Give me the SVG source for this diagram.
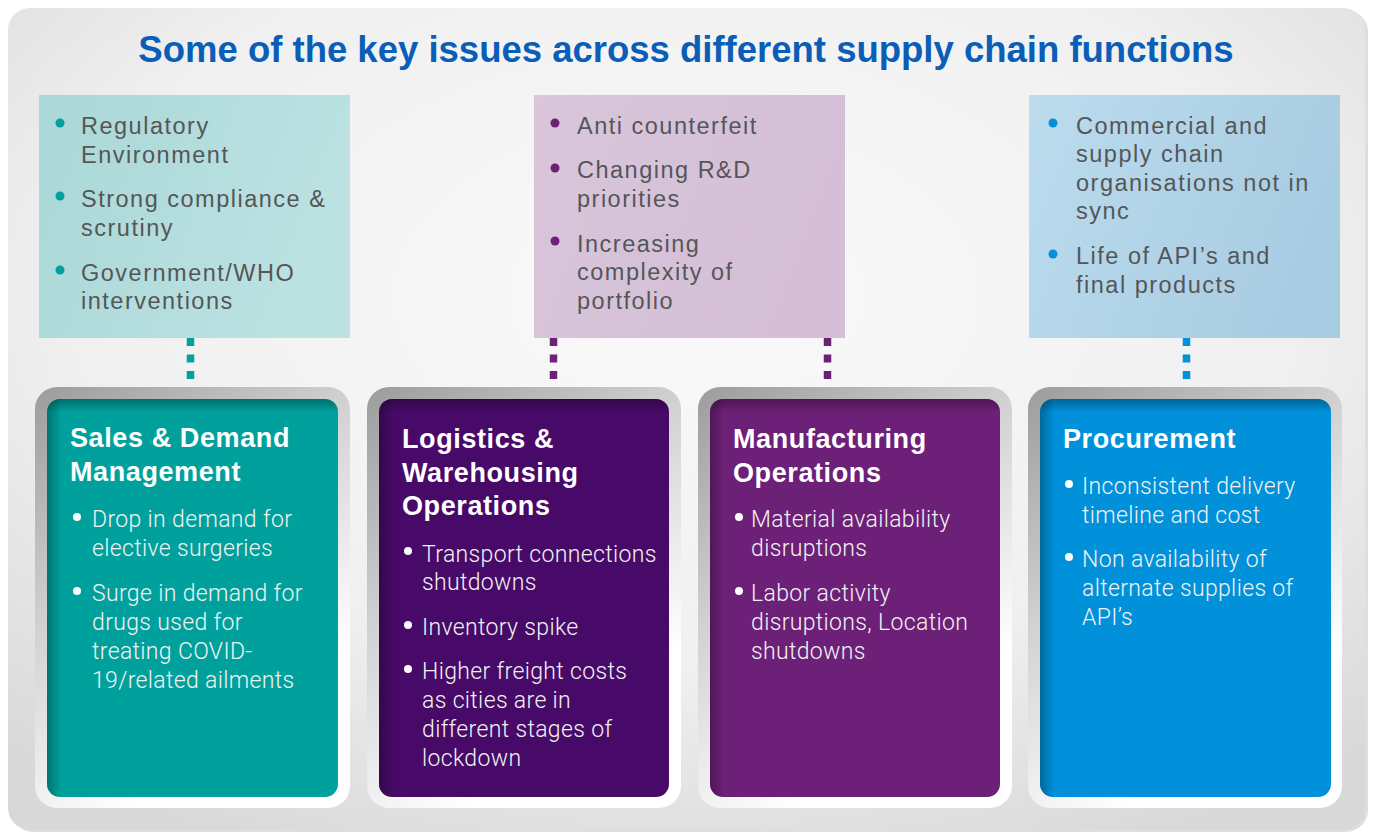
<svg xmlns="http://www.w3.org/2000/svg" width="1373" height="832" viewBox="0 0 1373 832">
<defs>
  <radialGradient id="bg" cx="0.5" cy="0.35" r="0.75">
    <stop offset="0" stop-color="#fafafa"/>
    <stop offset="0.6" stop-color="#f0f0f0"/>
    <stop offset="1" stop-color="#d8d8d8"/>
  </radialGradient>
  <linearGradient id="frame" x1="0" y1="0" x2="0.55" y2="1">
    <stop offset="0" stop-color="#9c9c9c"/>
    <stop offset="0.45" stop-color="#d2d2d2"/>
    <stop offset="0.9" stop-color="#ffffff"/>
  </linearGradient>
  <linearGradient id="shadeL" x1="0" y1="0" x2="1" y2="0">
    <stop offset="0" stop-color="#000" stop-opacity="0.28"/>
    <stop offset="0.05" stop-color="#000" stop-opacity="0"/>
  </linearGradient>
  <linearGradient id="shadeT" x1="0" y1="0" x2="0" y2="1">
    <stop offset="0" stop-color="#000" stop-opacity="0.3"/>
    <stop offset="0.035" stop-color="#000" stop-opacity="0"/>
  </linearGradient>
  <linearGradient id="tealBox" x1="0" y1="0" x2="1" y2="0.3">
    <stop offset="0" stop-color="#aad7d7"/>
    <stop offset="1" stop-color="#bce2e2"/>
  </linearGradient>
  <linearGradient id="purpBox" x1="0" y1="0" x2="1" y2="0.3">
    <stop offset="0" stop-color="#d9c6db"/>
    <stop offset="1" stop-color="#d4bfd6"/>
  </linearGradient>
  <linearGradient id="blueBox" x1="0" y1="0" x2="1" y2="0.3">
    <stop offset="0" stop-color="#bcdcee"/>
    <stop offset="1" stop-color="#a8cce2"/>
  </linearGradient>
</defs>
<style>
  .title { font-family: "Liberation Sans", Arial, sans-serif; font-weight: bold; font-size: 36.5px; fill: #0a5eb8; }
  .tb { font-family: "Liberation Sans", Arial, sans-serif; font-size: 23.5px; letter-spacing: 1.5px; fill: #555658; }
  .ct { font-family: "Liberation Sans", Arial, sans-serif; font-weight: bold; font-size: 27px; letter-spacing: 0.6px; fill: #ffffff; }
  .cb { font-family: Roboto, "Liberation Sans", sans-serif; font-weight: 300; font-size: 23px; letter-spacing: 0.35px; fill: #f2f2f2; }
  .dot { fill: #ffffff; }
  .conn { fill: none; stroke-width: 7.5; stroke-dasharray: 8 8.5; }
</style>

<!-- background panel -->
<rect x="11" y="10" width="1357" height="822" rx="22" fill="#c8c8c8" opacity="0.6"/>
<rect x="8" y="8" width="1357" height="822" rx="22" fill="url(#bg)"/>

<text class="title" x="686" y="62" text-anchor="middle">Some of the key issues across different supply chain functions</text>

<!-- connectors -->
<g id="connectors">
  <line class="conn" x1="190.5" y1="338" x2="190.5" y2="392" stroke="#00a19f"/>
  <line class="conn" x1="553.5" y1="338" x2="553.5" y2="392" stroke="#6d2077"/>
  <line class="conn" x1="827.5" y1="338" x2="827.5" y2="392" stroke="#6d2077"/>
  <line class="conn" x1="1186.5" y1="338" x2="1186.5" y2="392" stroke="#0091da"/>
</g>

<!-- top boxes -->
<g id="regulatory-box">
  <rect x="39" y="95" width="311" height="243" fill="url(#tealBox)"/>
  <circle cx="60" cy="123" r="4.5" fill="#00a19f"/>
  <circle cx="60" cy="196" r="4.5" fill="#00a19f"/>
  <circle cx="60" cy="270" r="4.5" fill="#00a19f"/>
  <text class="tb" x="81" y="134">Regulatory</text>
  <text class="tb" x="81" y="163">Environment</text>
  <text class="tb" x="81" y="207">Strong compliance &amp;</text>
  <text class="tb" x="81" y="236">scrutiny</text>
  <text class="tb" x="81" y="281">Government/WHO</text>
  <text class="tb" x="81" y="309">interventions</text>
</g>

<g id="product-box">
  <rect x="534" y="95" width="311" height="243" fill="url(#purpBox)"/>
  <circle cx="555" cy="123" r="4.5" fill="#6d2077"/>
  <circle cx="555" cy="168" r="4.5" fill="#6d2077"/>
  <circle cx="555" cy="241" r="4.5" fill="#6d2077"/>
  <text class="tb" x="577" y="134">Anti counterfeit</text>
  <text class="tb" x="577" y="178">Changing R&amp;D</text>
  <text class="tb" x="577" y="207">priorities</text>
  <text class="tb" x="577" y="252">Increasing</text>
  <text class="tb" x="577" y="280">complexity of</text>
  <text class="tb" x="577" y="309">portfolio</text>
</g>

<g id="commercial-box">
  <rect x="1029" y="95" width="311" height="243" fill="url(#blueBox)"/>
  <circle cx="1053" cy="123" r="4.5" fill="#0091da"/>
  <circle cx="1053" cy="254" r="4.5" fill="#0091da"/>
  <text class="tb" x="1076" y="134">Commercial and</text>
  <text class="tb" x="1076" y="162">supply chain</text>
  <text class="tb" x="1076" y="191">organisations not in</text>
  <text class="tb" x="1076" y="219">sync</text>
  <text class="tb" x="1076" y="264">Life of API’s and</text>
  <text class="tb" x="1076" y="293">final products</text>
</g>

<!-- bottom cards -->
<g id="sales-card">
  <rect x="35" y="387" width="315" height="421" rx="22" fill="url(#frame)"/>
  <rect x="47" y="399" width="291" height="398" rx="13" fill="#00a19d"/>
  <rect x="47" y="399" width="291" height="398" rx="13" fill="url(#shadeL)"/>
  <rect x="47" y="399" width="291" height="398" rx="13" fill="url(#shadeT)"/>
  <text class="ct" x="70" y="447">Sales &amp; Demand</text>
  <text class="ct" x="70" y="481">Management</text>
  <circle class="dot" cx="77" cy="517" r="4"/>
  <text class="cb" x="92" y="527">Drop in demand for</text>
  <text class="cb" x="92" y="556">elective surgeries</text>
  <circle class="dot" cx="77" cy="591" r="4"/>
  <text class="cb" x="92" y="601">Surge in demand for</text>
  <text class="cb" x="92" y="630">drugs used for</text>
  <text class="cb" x="92" y="659">treating COVID-</text>
  <text class="cb" x="92" y="688">19/related ailments</text>
</g>

<g id="logistics-card">
  <rect x="367" y="387" width="314" height="421" rx="22" fill="url(#frame)"/>
  <rect x="379" y="399" width="290" height="398" rx="13" fill="#470a68"/>
  <rect x="379" y="399" width="290" height="398" rx="13" fill="url(#shadeL)"/>
  <rect x="379" y="399" width="290" height="398" rx="13" fill="url(#shadeT)"/>
  <text class="ct" x="402" y="448">Logistics &amp;</text>
  <text class="ct" x="402" y="482">Warehousing</text>
  <text class="ct" x="402" y="515">Operations</text>
  <circle class="dot" cx="408" cy="551" r="4"/>
  <text class="cb" x="422" y="562">Transport connections</text>
  <text class="cb" x="422" y="590">shutdowns</text>
  <circle class="dot" cx="408" cy="625" r="4"/>
  <text class="cb" x="422" y="635">Inventory spike</text>
  <circle class="dot" cx="408" cy="669" r="4"/>
  <text class="cb" x="422" y="679">Higher freight costs</text>
  <text class="cb" x="422" y="708">as cities are in</text>
  <text class="cb" x="422" y="737">different stages of</text>
  <text class="cb" x="422" y="766">lockdown</text>
</g>

<g id="manufacturing-card">
  <rect x="698" y="387" width="314" height="421" rx="22" fill="url(#frame)"/>
  <rect x="710" y="399" width="290" height="398" rx="13" fill="#6d2077"/>
  <rect x="710" y="399" width="290" height="398" rx="13" fill="url(#shadeL)"/>
  <rect x="710" y="399" width="290" height="398" rx="13" fill="url(#shadeT)"/>
  <text class="ct" x="733" y="448">Manufacturing</text>
  <text class="ct" x="733" y="482">Operations</text>
  <circle class="dot" cx="739" cy="517" r="4"/>
  <text class="cb" x="751" y="527">Material availability</text>
  <text class="cb" x="751" y="556">disruptions</text>
  <circle class="dot" cx="739" cy="591" r="4"/>
  <text class="cb" x="751" y="601">Labor activity</text>
  <text class="cb" x="751" y="630">disruptions, Location</text>
  <text class="cb" x="751" y="659">shutdowns</text>
</g>

<g id="procurement-card">
  <rect x="1028" y="387" width="314" height="421" rx="22" fill="url(#frame)"/>
  <rect x="1040" y="399" width="291" height="398" rx="13" fill="#0091da"/>
  <rect x="1040" y="399" width="291" height="398" rx="13" fill="url(#shadeL)"/>
  <rect x="1040" y="399" width="291" height="398" rx="13" fill="url(#shadeT)"/>
  <text class="ct" x="1063" y="448">Procurement</text>
  <circle class="dot" cx="1069" cy="484" r="4"/>
  <text class="cb" x="1082" y="494">Inconsistent delivery</text>
  <text class="cb" x="1082" y="523">timeline and cost</text>
  <circle class="dot" cx="1069" cy="557" r="4"/>
  <text class="cb" x="1082" y="567">Non availability of</text>
  <text class="cb" x="1082" y="596">alternate supplies of</text>
  <text class="cb" x="1082" y="625">API’s</text>
</g>
</svg>
